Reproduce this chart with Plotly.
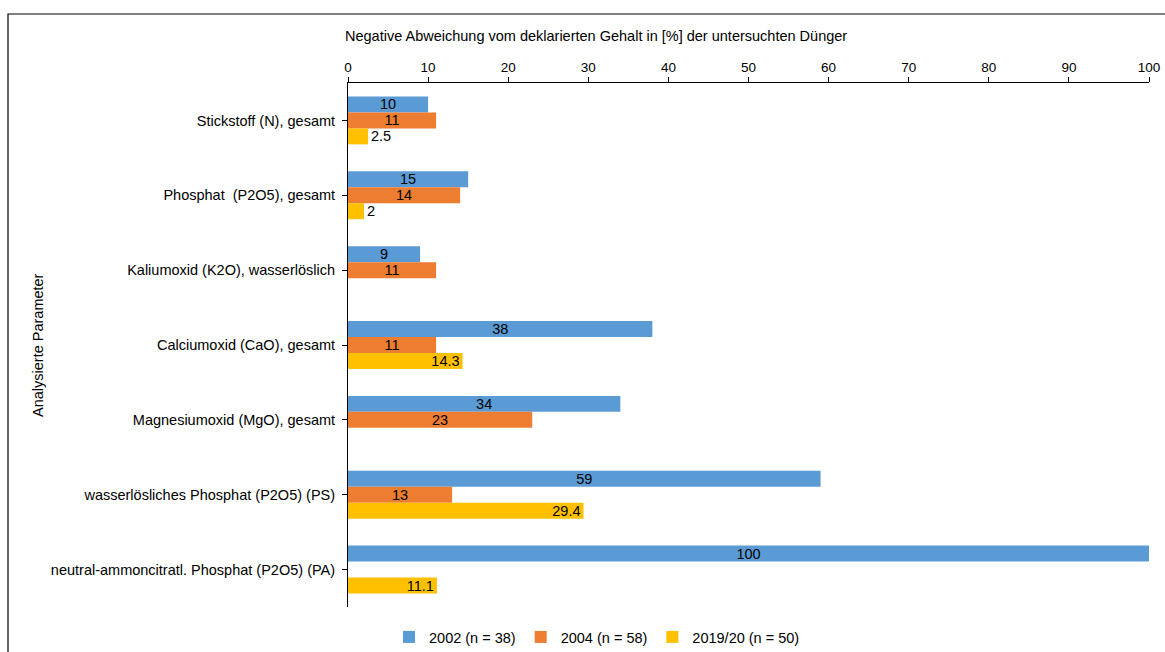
import plotly.graph_objects as go

categories = [
    "Stickstoff (N), gesamt",
    "Phosphat  (P2O5), gesamt",
    "Kaliumoxid (K2O), wasserlöslich",
    "Calciumoxid (CaO), gesamt",
    "Magnesiumoxid (MgO), gesamt",
    "wasserlösliches Phosphat (P2O5) (PS)",
    "neutral-ammoncitratl. Phosphat (P2O5) (PA)",
]
v2002 = [10, 15, 9, 38, 34, 59, 100]
v2004 = [11, 14, 11, 11, 23, 13, None]
v2019 = [2.5, 2, None, 14.3, None, 29.4, 11.1]
names = ["2002 (n = 38)", "2004 (n = 58)", "2019/20 (n = 50)"]
colors = ["#5B9BD5", "#ED7D31", "#FFC000"]

FONT = "Liberation Sans, Arial, sans-serif"
FS = 14.5

def fmt(v):
    if v is None:
        return ""
    return f"{v:g}"

fig = go.Figure()
fig.add_trace(go.Bar(
    y=categories, x=v2002, orientation="h", name=names[0],
    marker=dict(color=colors[0], line=dict(width=0)),
    text=[fmt(v) for v in v2002], textposition="inside", textangle=0,
    insidetextanchor="middle", constraintext="none",
    textfont=dict(color="black", size=FS, family=FONT),
))
fig.add_trace(go.Bar(
    y=categories, x=v2004, orientation="h", name=names[1],
    marker=dict(color=colors[1], line=dict(width=0)),
    text=[fmt(v) for v in v2004], textposition="inside", textangle=0,
    insidetextanchor="middle", constraintext="none",
    textfont=dict(color="black", size=FS, family=FONT),
))
fig.add_trace(go.Bar(
    y=categories, x=v2019, orientation="h", name=names[2],
    marker=dict(color=colors[2], line=dict(width=0)),
    text=[fmt(v) for v in v2019], textangle=0,
    textposition=["outside", "outside", "inside", "inside", "inside", "inside", "inside"],
    insidetextanchor="end", constraintext="none", cliponaxis=False,
    textfont=dict(color="black", size=FS, family=FONT),
))

W, H = 1165, 652
L, R, T, B = 348, 16, 83, 45
pw, ph = W - L - R, H - T - B

def px_x(p):
    return (p - L) / pw

def px_y(p):
    return (H - B - p) / ph

fig.update_layout(
    width=W, height=H,
    margin=dict(l=L, r=R, t=T, b=B, autoexpand=False),
    paper_bgcolor="white", plot_bgcolor="white",
    barmode="group", bargap=0.36, bargroupgap=0,
    font=dict(family=FONT, size=FS, color="black"),
    showlegend=True,
    legend=dict(
        orientation="h", x=px_x(597), xanchor="center",
        y=px_y(637), yanchor="middle",
        font=dict(size=FS, family=FONT, color="black"),
        itemwidth=30, traceorder="normal",
    ),
    xaxis=dict(
        side="top", range=[0, 100], dtick=10, tick0=0,
        showgrid=False, zeroline=False, automargin=False,
        showline=True, linecolor="black", linewidth=1,
        ticks="outside", ticklen=5, tickcolor="black",
        tickfont=dict(size=13.5, family=FONT, color="black"),
    ),
    yaxis=dict(
        autorange="reversed", automargin=False,
        showgrid=False, zeroline=False,
        showline=True, linecolor="black", linewidth=1,
        ticks="outside", ticklen=5, tickcolor="black",
        tickfont=dict(size=FS, family=FONT, color="black"),
        ticksuffix=" ",
    ),
    annotations=[
        dict(
            text="Negative Abweichung vom deklarierten Gehalt in [%] der untersuchten Dünger",
            xref="paper", yref="paper", x=px_x(343), y=px_y(36),
            xanchor="left", yanchor="middle", showarrow=False,
            font=dict(size=FS, family=FONT, color="black"),
        ),
        dict(
            text="Analysierte Parameter", textangle=-90,
            xref="paper", yref="paper", x=px_x(38), y=px_y(345),
            xanchor="center", yanchor="middle", showarrow=False,
            font=dict(size=FS, family=FONT, color="black"),
        ),
    ],
    shapes=[
        dict(type="rect", xref="paper", yref="paper",
             x0=px_x(8), x1=px_x(1200), y0=px_y(14), y1=px_y(700),
             line=dict(color="black", width=1.2), fillcolor="rgba(0,0,0,0)", layer="above"),
    ],
)

fig.write_html("out.html")
